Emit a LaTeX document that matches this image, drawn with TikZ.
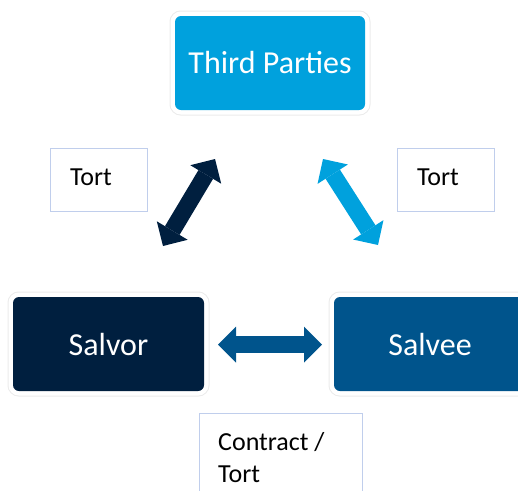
\documentclass[tikz,border=0pt]{standalone}
\usepackage{fontspec}
\setmainfont{Carlito}
\usetikzlibrary{arrows.meta}
\definecolor{skyblue}{RGB}{0,161,221}
\definecolor{navy}{RGB}{0,31,63}
\definecolor{seablue}{RGB}{0,84,140}
\definecolor{boxline}{RGB}{192,206,236}
\begin{document}
\begin{tikzpicture}[x=1pt,y=-1pt,
  party/.style={minimum width=#1, minimum height=94pt, rounded corners=6pt,
    inner sep=0pt, text=white, font=\fontsize{32}{38}\selectfont,
    preaction={draw=black!8, line width=11pt},
    preaction={draw=white, line width=9pt}},
  tag/.style={draw=boxline, line width=0.9pt, minimum height=63pt,
    minimum width=97pt, text width=57pt, inner xsep=20pt, inner ysep=0pt,
    text depth=5pt, align=left, font=\fontsize{26}{32}\selectfont},
  link/.style={line width=17pt,
    >={Triangle[width=36pt, length=18pt, line width=0pt]}, <->}]
  \useasboundingbox (0,0) rectangle (518,490);
  \clip (0,0) rectangle (518,490);

  % parties
  \node[party=190pt, fill=skyblue] (third) at (270,63) {Third Parties};
  \node[party=191pt, fill=navy] (salvor) at (108.5,344) {Salvor};
  \node[party=192pt, fill=seablue] (salvee) at (430,344) {Salvee};

  % relationship labels
  \node[tag] (tortL) at (98.5,179.5) {Tort};
  \node[tag] (tortR) at (445.5,180) {Tort};
  \node[draw=boxline, line width=0.9pt, minimum width=163pt,
    minimum height=100pt, anchor=north west, inner sep=0pt] (cbox) at (199,413) {};
  \node[anchor=north west, inner sep=0pt, align=left,
    font=\fontsize{26}{32}\selectfont] (ctext) at (218,432) {Contract /\\Tort};

  % arrow ends
  \coordinate (l1) at (215,159);
  \coordinate (l2) at (163,246);
  \coordinate (r1) at (323,159);
  \coordinate (r2) at (378,245);
  \coordinate (h1) at (218,344.5);
  \coordinate (h2) at (322,344.5);

  % two-way relations
  \draw[link, navy] (l1) -- (l2);
  \draw[link, skyblue] (r1) -- (r2);
  \draw[link, seablue] (h1) -- (h2);
\end{tikzpicture}
\end{document}
